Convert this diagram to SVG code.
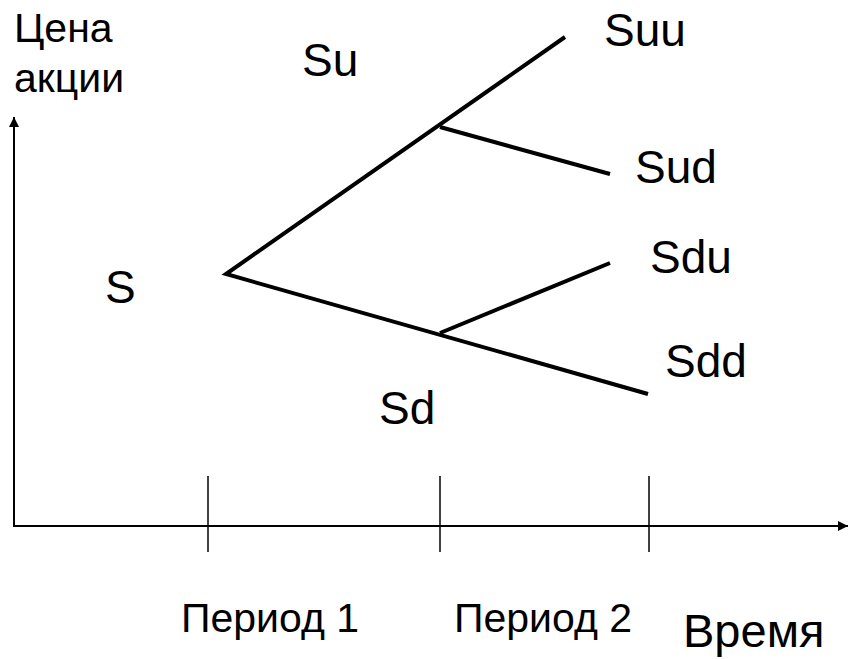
<svg xmlns="http://www.w3.org/2000/svg" width="848" height="659" viewBox="0 0 848 659">
<defs>
<marker id="arr" viewBox="0 0 10 10" refX="10" refY="5" markerWidth="5" markerHeight="5" orient="auto" markerUnits="strokeWidth">
<path d="M0,0 L10,5 L0,10 z" fill="#000"/>
</marker>
<style>
text{font-family:"Liberation Sans",Arial,sans-serif;fill:#000}
.lbl{font-size:46px}
.ax{font-size:41px}
.big{font-size:47px}
.axis{stroke:#000;stroke-width:2;fill:none}
.tick{stroke:#000;stroke-width:1.5}
.br{stroke:#000;stroke-width:4;fill:none}
</style>
</defs>
<rect width="848" height="659" fill="#fff"/>
<g id="axes">
<line class="axis" x1="14" y1="526" x2="14" y2="117" marker-end="url(#arr)"/>
<line class="axis" x1="13" y1="526" x2="848" y2="526" marker-end="url(#arr)"/>
<line class="tick" x1="208" y1="476" x2="208" y2="552"/>
<line class="tick" x1="440" y1="476" x2="440" y2="552"/>
<line class="tick" x1="649" y1="476" x2="649" y2="552"/>
</g>
<g id="connectors">
<polyline class="br" points="565,37 226,274 648,394"/>
<line class="br" x1="440" y1="127" x2="610" y2="174"/>
<line class="br" x1="440" y1="333" x2="610" y2="263"/>
</g>
<g id="node-S"><text class="lbl" x="105" y="303">S</text></g>
<g id="node-Su"><text class="lbl" x="302" y="76">Su</text></g>
<g id="node-Sd"><text class="lbl" x="379" y="424">Sd</text></g>
<g id="node-Suu"><text class="lbl" x="604" y="46">Suu</text></g>
<g id="node-Sud"><text class="lbl" x="635" y="183">Sud</text></g>
<g id="node-Sdu"><text class="lbl" x="650" y="273">Sdu</text></g>
<g id="node-Sdd"><text class="lbl" x="665" y="377">Sdd</text></g>
<g id="labels">
<text class="ax" x="14" y="42">Цена</text>
<text class="ax" x="14" y="92">акции</text>
<text class="ax" x="181" y="632">Период 1</text>
<text class="ax" x="454" y="632">Период 2</text>
<text class="big" x="683" y="647">Время</text>
</g>
</svg>
